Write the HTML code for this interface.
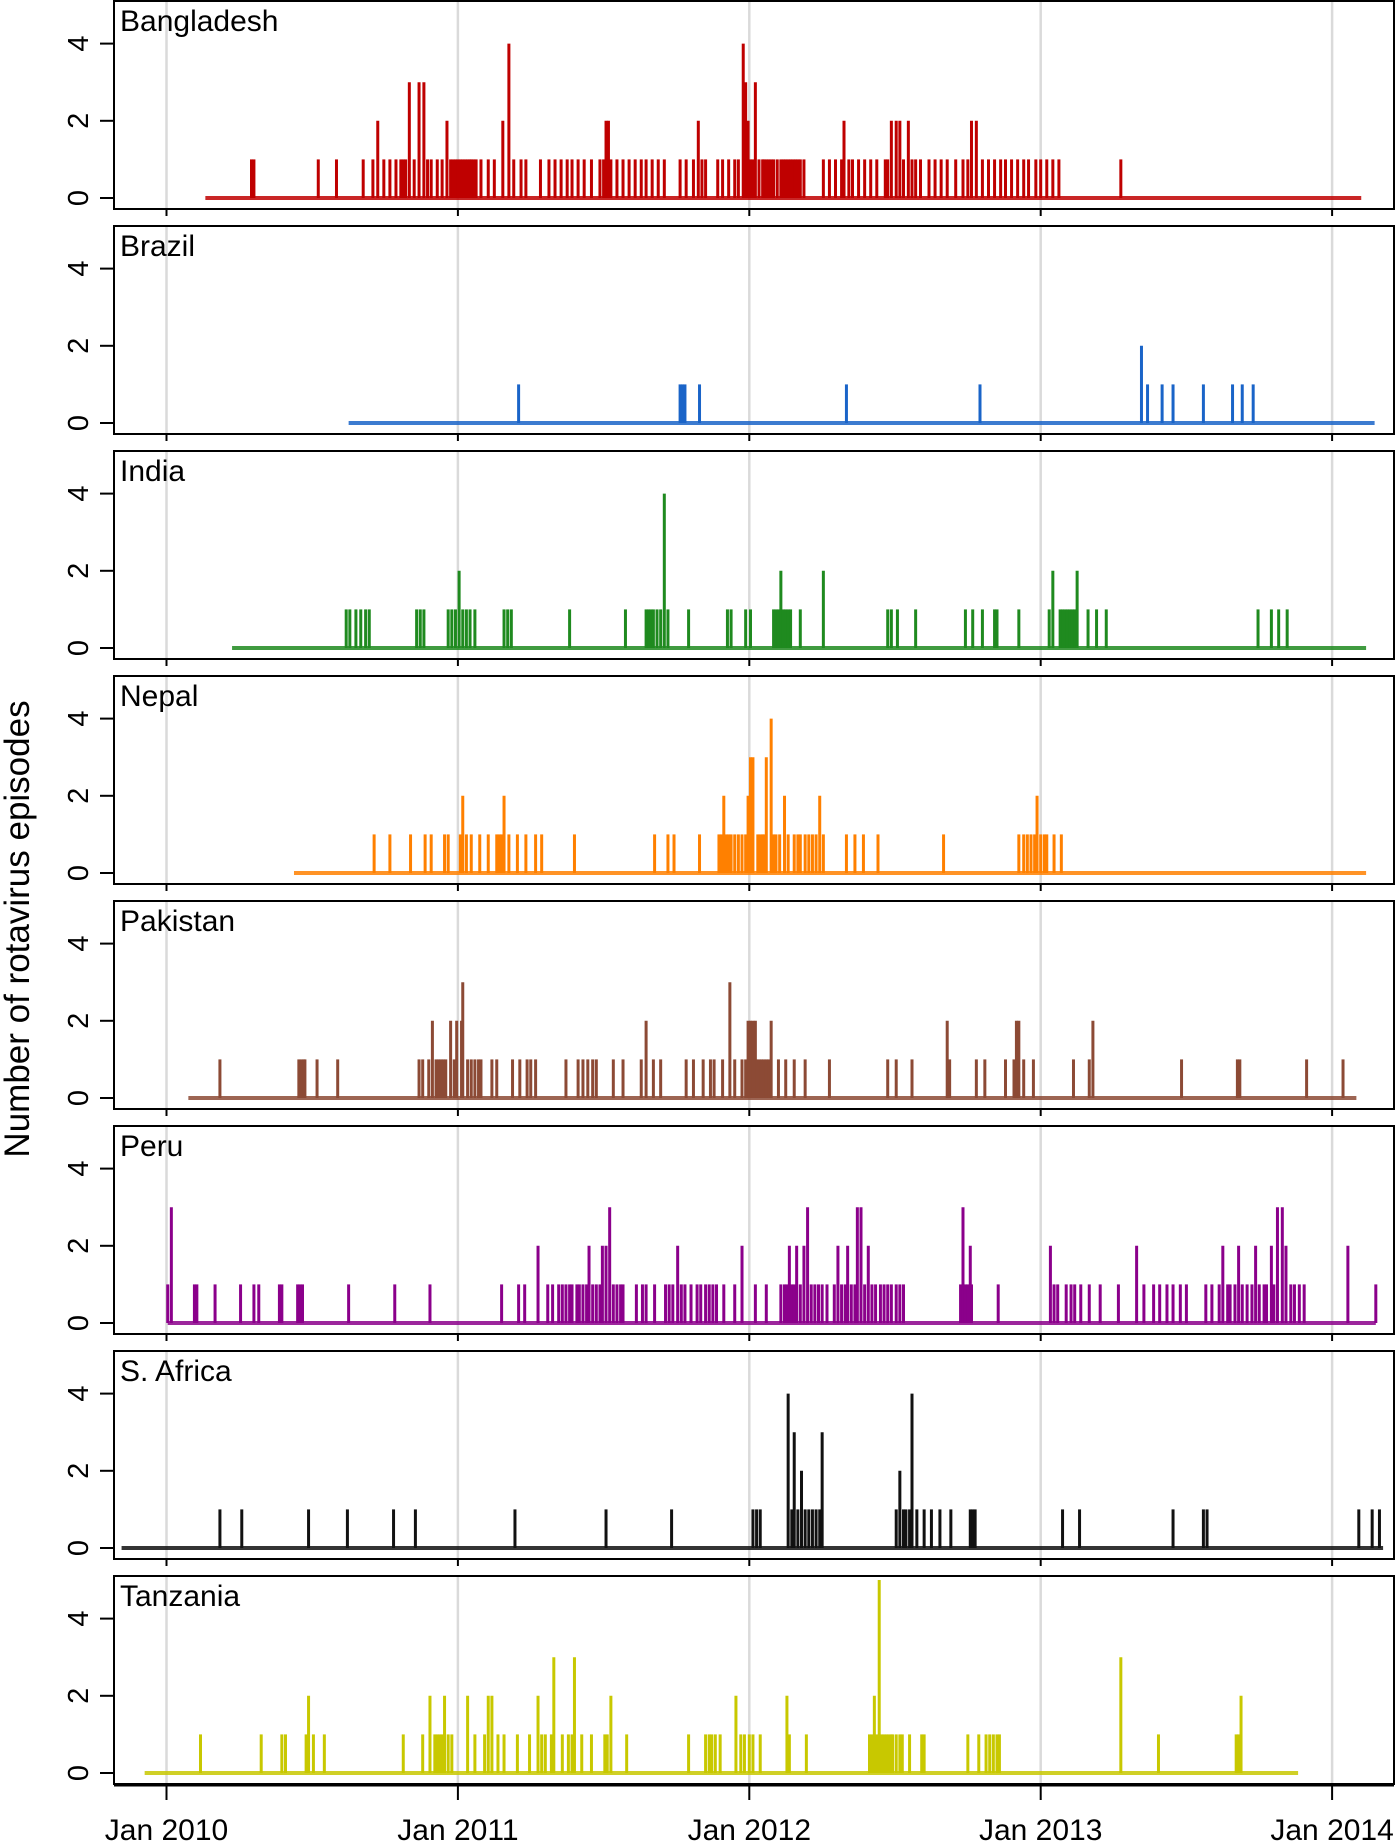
<!DOCTYPE html>
<html><head><meta charset="utf-8"><style>
html,body{margin:0;padding:0;background:#fff;}
svg{display:block;font-family:"Liberation Sans",Arial,sans-serif;}
</style></head><body>
<svg id="chart" width="1400" height="1843" viewBox="0 0 1400 1843" xmlns="http://www.w3.org/2000/svg">
<text x="0" y="0" font-size="35" text-anchor="middle" transform="translate(29,929) rotate(-90)">Number of rotavirus episodes</text>
</svg>
<script>
// months since Jan 2010, [month, count]
const countries = ["Bangladesh","Brazil","India","Nepal","Pakistan","Peru","S. Africa","Tanzania"];
const colors = ["#bf0000","#1a64c8","#1f8a1f","#ff8000","#8c4a35","#8b008b","#111111","#c8c800"];
const baselineStart = [1.6,7.5,2.7,5.25,0.9,0.05,-1.85,-0.9];
const baselineEnd = [49.2,49.75,49.4,49.4,49,49.8,50.1,46.6];
const yTicks = [0,2,4];
const xTickLabels = ["Jan 2010","Jan 2011","Jan 2012","Jan 2013","Jan 2014"];
const xTickMonths = [0,12,24,36,48];

const bangladesh = [[3.5,1],[3.6,1],[6.25,1],[7.0,1],[8.1,1],[8.5,1],[8.7,2],[8.95,1],[9.2,1],[9.45,1],[9.65,1],[9.75,1],[9.85,1],[10,3],[10.2,1],[10.4,3],[10.6,3],[10.75,1],[10.9,1],[11.15,1],[11.35,1],[11.55,2],[11.7,1],[11.8,1],[11.9,1],[12,1],[12.1,1],[12.2,1],[12.3,1],[12.4,1],[12.5,1],[12.55,1],[12.65,1],[12.75,1],[12.95,1],[13.25,1],[13.5,1],[13.85,2],[14.1,4],[14.3,1],[14.6,1],[14.8,1],[15.4,1],[15.75,1],[16,1],[16.25,1],[16.5,1],[16.7,1],[16.95,1],[17.2,1],[17.5,1],[17.85,1],[18,1],[18.1,2],[18.2,2],[18.3,1],[18.55,1],[18.8,1],[19.05,1],[19.3,1],[19.55,1],[19.75,1],[20,1],[20.25,1],[20.5,1],[21.15,1],[21.4,1],[21.7,1],[21.9,2],[22.05,1],[22.2,1],[22.7,1],[22.9,1],[23.15,1],[23.4,1],[23.55,1],[23.75,4],[23.85,3],[23.95,2],[24.05,1],[24.15,1],[24.25,3],[24.4,1],[24.55,1],[24.6,1],[24.7,1],[24.8,1],[24.9,1],[25,1],[25.15,1],[25.3,1],[25.4,1],[25.5,1],[25.6,1],[25.7,1],[25.8,1],[25.9,1],[26,1],[26.1,1],[26.25,1],[27.05,1],[27.3,1],[27.55,1],[27.8,1],[27.9,2],[28.1,1],[28.25,1],[28.5,1],[28.75,1],[29,1],[29.25,1],[29.6,1],[29.7,1],[29.85,2],[30.05,2],[30.2,2],[30.35,1],[30.55,2],[30.7,1],[30.85,1],[31.05,1],[31.4,1],[31.65,1],[31.9,1],[32.15,1],[32.5,1],[32.8,1],[33,1],[33.15,2],[33.35,2],[33.6,1],[33.85,1],[34.1,1],[34.35,1],[34.55,1],[34.8,1],[35.05,1],[35.3,1],[35.5,1],[35.8,1],[36.0,1],[36.25,1],[36.5,1],[36.75,1],[39.3,1]];
const brazil = [[14.5,1],[21.15,1],[21.25,1],[21.35,1],[21.95,1],[28.0,1],[33.5,1],[40.15,2],[40.4,1],[41.0,1],[41.45,1],[42.7,1],[43.9,1],[44.3,1],[44.75,1]];
const india = [[7.4,1],[7.55,1],[7.8,1],[8.0,1],[8.2,1],[8.35,1],[10.3,1],[10.45,1],[10.6,1],[11.6,1],[11.75,1],[11.9,1],[12.05,2],[12.2,1],[12.35,1],[12.5,1],[12.7,1],[13.9,1],[14.05,1],[14.2,1],[16.6,1],[18.9,1],[19.75,1],[19.85,1],[19.95,1],[20.05,1],[20.2,1],[20.35,1],[20.5,4],[20.65,1],[21.5,1],[23.1,1],[23.25,1],[23.85,1],[24.05,1],[25,1],[25.1,1],[25.2,1],[25.3,2],[25.4,1],[25.5,1],[25.6,1],[25.7,1],[26.1,1],[27.05,2],[29.7,1],[29.85,1],[30.1,1],[30.85,1],[32.9,1],[33.2,1],[33.6,1],[34.1,1],[34.2,1],[35.1,1],[36.35,1],[36.5,2],[36.8,1],[36.9,1],[37.0,1],[37.1,1],[37.2,1],[37.3,1],[37.4,1],[37.5,2],[37.95,1],[38.3,1],[38.7,1],[44.95,1],[45.5,1],[45.8,1],[46.15,1]];
const nepal = [[8.55,1],[9.2,1],[10.05,1],[10.65,1],[10.9,1],[11.45,1],[11.6,1],[12.1,1],[12.2,2],[12.35,1],[12.55,1],[12.9,1],[13.25,1],[13.6,1],[13.7,1],[13.8,1],[13.9,2],[14.1,1],[14.45,1],[14.8,1],[15.2,1],[15.45,1],[16.8,1],[20.1,1],[20.65,1],[20.9,1],[21.95,1],[22.75,1],[22.85,1],[22.95,2],[23.05,1],[23.15,1],[23.25,1],[23.4,1],[23.55,1],[23.7,1],[23.85,1],[23.95,2],[24.05,3],[24.15,3],[24.35,1],[24.45,1],[24.55,1],[24.6,1],[24.7,3],[24.9,4],[25,1],[25.1,1],[25.25,1],[25.45,2],[25.6,1],[25.85,1],[26,1],[26.1,1],[26.3,1],[26.45,1],[26.6,1],[26.75,1],[26.9,2],[27.05,1],[28,1],[28.35,1],[28.7,1],[29.3,1],[32,1],[35.1,1],[35.3,1],[35.45,1],[35.6,1],[35.75,1],[35.85,2],[36,1],[36.15,1],[36.25,1],[36.55,1],[36.85,1]];
const pakistan = [[2.2,1],[5.45,1],[5.55,1],[5.65,1],[5.7,1],[6.2,1],[7.05,1],[10.4,1],[10.55,1],[10.8,1],[10.95,2],[11.1,1],[11.2,1],[11.3,1],[11.4,1],[11.5,1],[11.7,2],[11.85,1],[11.95,2],[12.15,2],[12.2,3],[12.4,1],[12.55,1],[12.7,1],[12.85,1],[12.95,1],[13.4,1],[13.6,1],[14.25,1],[14.55,1],[14.85,1],[15,1],[15.2,1],[16.45,1],[16.95,1],[17.15,1],[17.35,1],[17.55,1],[17.7,1],[18.4,1],[18.8,1],[19.55,1],[19.75,2],[20.05,1],[20.35,1],[21.4,1],[21.7,1],[22.1,1],[22.4,1],[22.55,1],[22.9,1],[23.2,3],[23.4,1],[23.7,1],[23.85,1],[23.95,2],[24.05,2],[24.15,2],[24.25,2],[24.3,1],[24.4,1],[24.5,1],[24.6,1],[24.7,1],[24.8,1],[24.9,2],[25.2,1],[25.5,1],[25.85,1],[26.3,1],[27.3,1],[29.7,1],[30.05,1],[30.7,1],[32.15,2],[32.25,1],[33.35,1],[33.7,1],[34.55,1],[34.9,1],[35,2],[35.1,2],[35.3,1],[35.7,1],[37.35,1],[38,1],[38.15,2],[41.8,1],[44.1,1],[44.2,1],[46.95,1],[48.45,1]];
const peru = [[0.05,1],[0.2,3],[1.15,1],[1.25,1],[2,1],[3.05,1],[3.6,1],[3.8,1],[4.65,1],[4.75,1],[5.4,1],[5.5,1],[5.6,1],[7.5,1],[9.4,1],[10.85,1],[13.8,1],[14.5,1],[14.75,1],[15.3,2],[15.7,1],[15.9,1],[16.15,1],[16.3,1],[16.45,1],[16.6,1],[16.7,1],[16.9,1],[17,1],[17.15,1],[17.3,1],[17.4,2],[17.55,1],[17.7,1],[17.85,1],[17.95,2],[18.1,2],[18.25,3],[18.4,1],[18.55,1],[18.7,1],[18.8,1],[19.35,1],[19.6,1],[19.75,1],[20.1,1],[20.55,1],[20.7,1],[20.85,1],[21.05,2],[21.2,1],[21.35,1],[21.6,1],[21.85,1],[22,1],[22.2,1],[22.35,1],[22.5,1],[22.65,1],[22.95,1],[23.4,1],[23.7,2],[24.25,1],[24.7,1],[25.3,1],[25.45,1],[25.55,1],[25.65,2],[25.75,1],[25.85,1],[25.95,2],[26.1,1],[26.25,2],[26.4,3],[26.55,1],[26.7,1],[26.85,1],[27,1],[27.2,1],[27.5,1],[27.65,2],[27.8,1],[27.95,1],[28.05,2],[28.2,1],[28.35,1],[28.45,3],[28.6,3],[28.75,1],[28.9,2],[29.05,1],[29.2,1],[29.4,1],[29.55,1],[29.7,1],[29.85,1],[30.05,1],[30.2,1],[30.35,1],[32.7,1],[32.8,3],[32.9,1],[33,1],[33.1,2],[33.15,1],[34.25,1],[36.4,2],[36.55,1],[36.7,1],[37.05,1],[37.25,1],[37.4,1],[37.65,1],[38,1],[38.45,1],[39.2,1],[39.95,2],[40.25,1],[40.65,1],[40.9,1],[41.2,1],[41.45,1],[41.75,1],[42,1],[42.8,1],[43.05,1],[43.35,1],[43.5,2],[43.7,1],[43.8,1],[44,1],[44.15,2],[44.3,1],[44.5,1],[44.7,1],[44.85,2],[45,1],[45.2,1],[45.3,1],[45.5,2],[45.6,1],[45.75,3],[45.95,3],[46.1,2],[46.3,1],[46.45,1],[46.65,1],[46.85,1],[48.65,2],[49.8,1]];
const southAfrica = [[2.2,1],[3.1,1],[5.85,1],[7.45,1],[9.35,1],[10.25,1],[14.35,1],[18.1,1],[20.8,1],[24.15,1],[24.3,1],[24.45,1],[25.6,4],[25.75,1],[25.85,3],[26,1],[26.15,2],[26.3,1],[26.45,1],[26.6,1],[26.75,1],[26.9,1],[27,3],[30.05,1],[30.2,2],[30.35,1],[30.45,1],[30.6,1],[30.7,4],[30.9,1],[31.2,1],[31.5,1],[31.85,1],[32.3,1],[33.1,1],[33.2,1],[33.3,1],[36.9,1],[37.6,1],[41.45,1],[42.7,1],[42.85,1],[49.1,1],[49.65,1],[49.95,1]];
const tanzania = [[1.4,1],[3.9,1],[4.75,1],[4.9,1],[5.75,1],[5.85,2],[6.05,1],[6.5,1],[9.75,1],[10.55,1],[10.85,2],[11.05,1],[11.15,1],[11.25,1],[11.35,1],[11.45,2],[11.6,1],[11.75,1],[12.4,2],[12.7,1],[13.1,1],[13.25,2],[13.4,2],[13.65,1],[13.9,1],[14.45,1],[14.95,1],[15.3,2],[15.45,1],[15.6,1],[15.85,1],[15.95,3],[16.3,1],[16.55,1],[16.7,1],[16.8,3],[17.1,1],[17.5,1],[18.05,1],[18.15,1],[18.3,2],[18.95,1],[21.5,1],[22.2,1],[22.35,1],[22.45,1],[22.6,1],[22.8,1],[23.45,2],[23.65,1],[23.8,1],[24,1],[24.15,1],[24.45,1],[25.55,2],[25.65,1],[26.35,1],[28.95,1],[29.05,1],[29.15,2],[29.25,1],[29.35,5],[29.45,1],[29.55,1],[29.65,1],[29.75,1],[29.85,1],[29.9,1],[30.05,1],[30.2,1],[30.3,1],[30.6,1],[31.1,1],[31.2,1],[33,1],[33.45,1],[33.75,1],[33.9,1],[34.05,1],[34.2,1],[34.3,1],[39.3,3],[40.85,1],[44.05,1],[44.15,1],[44.25,2]];

const seriesData = [bangladesh,brazil,india,nepal,pakistan,peru,southAfrica,tanzania];

const svg = document.getElementById('chart');
const NS = 'http://www.w3.org/2000/svg';
const PANEL_STEP = 225, PANEL_H = 208, LEFT = 114, RIGHT = 1394;
function xScale(m){ return 166.5 + m * (291.4/12); }
function yScale(v, top){ return top + 197 - v * 38.6; }
function mk(tag, attrs){ const e = document.createElementNS(NS, tag); for (const k in attrs) e.setAttribute(k, attrs[k]); svg.appendChild(e); return e; }

countries.forEach((name, i) => {
  const top = 1 + i * PANEL_STEP;
  const slug = name.toLowerCase().replace(/[^a-z]+/g,'-').replace(/-$/,'');
  const last = i === countries.length - 1;
  xTickMonths.forEach((m, j) => {
    const g = mk('line', {x1:xScale(m), x2:xScale(m), y1:top, y2:top+PANEL_H, stroke:'#dadada', 'stroke-width':2.5});
    
    
    const t = mk('line', {x1:xScale(m), x2:xScale(m), y1:top+PANEL_H, y2:top+PANEL_H+(last?16:7), stroke:'#000', 'stroke-width':2});
    
    
  });
  const base = mk('line', {x1:xScale(baselineStart[i]), x2:xScale(baselineEnd[i]), y1:yScale(0,top), y2:yScale(0,top), stroke:colors[i], 'stroke-width':4, 'stroke-opacity':0.85});
  
  
  seriesData[i].forEach(d => {
    const s = mk('line', {x1:xScale(d[0]), x2:xScale(d[0]), y1:yScale(0,top), y2:yScale(d[1],top), stroke:colors[i], 'stroke-width':3});
    
    
  });
  const box = mk('rect', {x:LEFT, y:top, width:RIGHT-LEFT, height:PANEL_H, fill:'none', stroke:'#000', 'stroke-width':2});
  
  
  if (last) {
    const ax = mk('line', {x1:LEFT, x2:RIGHT, y1:top+PANEL_H+1, y2:top+PANEL_H+1, stroke:'#000', 'stroke-width':3});
    
    
  }
  yTicks.forEach(v => {
    const y = yScale(v, top);
    const tk = mk('line', {x1:100, x2:LEFT, y1:y, y2:y, stroke:'#000', 'stroke-width':2});
    
    
    const tl = mk('text', {x:0, y:0, 'font-size':29, 'text-anchor':'middle', transform:'translate(88,'+y+') rotate(-90)'});
    tl.textContent = v;
    
    
  });
  const lab = mk('text', {x:120, y:top+30, 'font-size':30});
  lab.textContent = name;
  
  
});
xTickLabels.forEach((l, j) => {
  const t = mk('text', {x:xScale(xTickMonths[j]), y:1840, 'font-size':30, 'text-anchor':'middle'});
  t.textContent = l;
  
  
});
</script>
</body></html>
